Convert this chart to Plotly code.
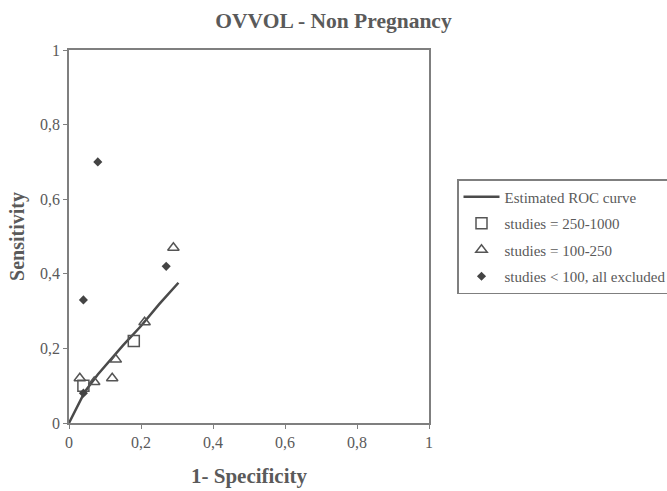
import plotly.graph_objects as go

# ROC curve
roc_x = [0, 0.044, 0.08, 0.114, 0.15, 0.20, 0.25, 0.304]
roc_y = [0, 0.084, 0.13, 0.168, 0.208, 0.260, 0.318, 0.376]

# studies = 250-1000
sq_x = [0.04, 0.18]
sq_y = [0.10, 0.22]

# studies = 100-250
tri_x = [0.03, 0.07, 0.12, 0.13, 0.21, 0.29]
tri_y = [0.12, 0.11, 0.12, 0.17, 0.27, 0.47]

# studies < 100, all excluded
dia_x = [0.08, 0.04, 0.27, 0.04]
dia_y = [0.70, 0.33, 0.42, 0.08]

tick_vals = [0, 0.2, 0.4, 0.6, 0.8, 1]
tick_text = ["0", "0,2", "0,4", "0,6", "0,8", "1"]

FONT = "Liberation Serif"
TXT = "#5a5a5a"
AX = "#7f7f7f"

fig = go.Figure()
fig.add_trace(go.Scatter(x=roc_x, y=roc_y, mode="lines", name="Estimated ROC curve",
                         line=dict(color="#4a4a4a", width=2.5), legendgroup="a"))
fig.add_trace(go.Scatter(x=sq_x, y=sq_y, mode="markers", name="studies = 250-1000",
                         marker=dict(symbol="square-open", size=11, color="#555555",
                                     line=dict(width=1.5)), legendgroup="b"))
fig.add_trace(go.Scatter(x=tri_x, y=tri_y, mode="markers", name="studies = 100-250",
                         marker=dict(symbol="triangle-up-open", size=10, color="#555555",
                                     line=dict(width=1.5)), legendgroup="c"))
fig.add_trace(go.Scatter(x=dia_x, y=dia_y, mode="markers", name="studies < 100, all excluded",
                         marker=dict(symbol="diamond", size=7, color="#444444"), legendgroup="d"))

axis_common = dict(
    range=[0, 1], tickvals=tick_vals, ticktext=tick_text,
    showgrid=False, zeroline=False, showline=True, linecolor=AX, linewidth=1.5,
    mirror=True, ticks="outside", ticklen=4, tickcolor=AX, tickwidth=1,
    tickfont=dict(family=FONT, size=16, color=TXT),
)

fig.update_layout(
    width=667, height=491,
    margin=dict(l=69, r=238, t=50, b=68, autoexpand=False),
    paper_bgcolor="white", plot_bgcolor="white",
    title=dict(text="<b>OVVOL - Non Pregnancy</b>", x=0.5, xref="container",
               xanchor="center", y=1 - 20/491, yref="container", yanchor="middle",
               font=dict(family=FONT, size=21.5, color=TXT)),
    xaxis=dict(axis_common, title=dict(text="<b>1- Specificity</b>", standoff=18,
                                       font=dict(family=FONT, size=21, color=TXT))),
    yaxis=dict(axis_common, title=dict(text="<b>Sensitivity</b>", standoff=10,
                                       font=dict(family=FONT, size=20, color=TXT))),
    legend=dict(x=(457 - 69) / 360, y=(423 - 179) / 373, xanchor="left", yanchor="top",
                bordercolor=AX, borderwidth=1.5, bgcolor="white",
                font=dict(family=FONT, size=15, color=TXT),
                itemwidth=36,
                traceorder="grouped", tracegroupgap=4),
    showlegend=True,
)

fig.write_html("out.html")
